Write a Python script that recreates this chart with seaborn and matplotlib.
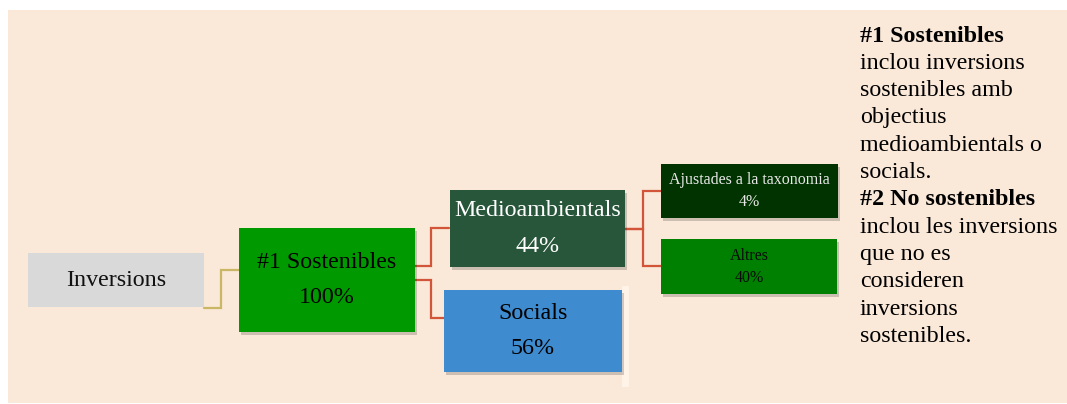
import matplotlib
matplotlib.use("Agg")
import matplotlib.pyplot as plt
import seaborn as sns
from matplotlib.patches import Rectangle

# --- data ---
labels = ["Inversions", "#1 Sostenibles", "Medioambientals", "Socials",
          "Ajustades a la taxonomia", "Altres"]
shares = [None, 100, 44, 56, 4, 40]
parents = [None, 0, 1, 1, 2, 2]

note_titles = ["#1 Sostenibles", "#2 No sostenibles"]
note_bodies = [["inclou inversions", "sostenibles amb", "objectius",
                "medioambientals o", "socials."],
               ["inclou les inversions", "que no es", "consideren",
                "inversions", "sostenibles."]]

# --- layout (pixel coords, y down) ---
boxes = [(28, 253, 176, 54), (239, 228, 176, 104), (450, 190, 175, 77),
         (444, 290, 178, 82), (661, 164, 177, 54), (661, 239, 176, 55)]
fills = ["#d9d9d9", "#009900", "#28563a", "#3f8bd0", "#013300", "#008000"]
txt_colors = ["#111111", "#000000", "#ffffff", "#000000", "#e8e8e8", "#0a0a0a"]
sizes = [17.3, 17.3, 17.3, 17.3, 11.5, 11.5]
# connector: (x start, y start, x elbow, y end)
links = [(204, 308, 221, 270), (415, 266, 431, 228), (415, 280, 431, 318),
         (625, 229, 643, 191), (625, 229, 643, 266)]
link_colors = ["#c9b766", "#d2553a", "#d2553a", "#d2553a", "#d2553a"]

sns.set_theme(style="white")
plt.rcParams['font.family'] = ['Liberation Serif', 'DejaVu Serif']

fig = plt.figure(figsize=(10.67, 4.04), dpi=100)
ax = fig.add_axes([0, 0, 1, 1])
ax.set_xlim(0, 1067)
ax.set_ylim(404, 0)
ax.axis("off")

ax.add_patch(Rectangle((8, 10), 1059, 393, facecolor="#fae8d8", edgecolor="none"))
ax.add_patch(Rectangle((622, 286), 7, 101, facecolor="#fff3e8", edgecolor="none"))

for (xs, ys, xe, ye), c in zip(links, link_colors):
    ax.plot([xs, xe, xe, xe + 18], [ys, ys, ye, ye],
            color=c, lw=1.6, solid_joinstyle="miter", zorder=2)

for i, (x, y, w, h) in enumerate(boxes):
    if i > 0:
        ax.add_patch(Rectangle((x + 2, y + 3), w, h, facecolor="#000000",
                               alpha=0.18, edgecolor="none", zorder=2))
    ax.add_patch(Rectangle((x, y), w, h, facecolor=fills[i],
                           edgecolor="none", zorder=3))
    cx = x + w / 2
    if shares[i] is None:
        ax.text(cx, y + h / 2, labels[i], ha="center", va="center",
                fontsize=sizes[i], color=txt_colors[i], zorder=4)
    else:
        gap = 17.5 if sizes[i] > 14 else 11
        ax.text(cx, y + h / 2 - gap, labels[i], ha="center", va="center",
                fontsize=sizes[i], color=txt_colors[i], zorder=4)
        ax.text(cx, y + h / 2 + gap, f"{shares[i]}%", ha="center", va="center",
                fontsize=sizes[i], color=txt_colors[i], zorder=4)

yy = 36
for title, body in zip(note_titles, note_bodies):
    ax.text(860, yy, title, ha="left", va="center", fontsize=17.3,
            fontweight="bold", color="#000000")
    yy += 27.3
    for line in body:
        ax.text(860, yy, line, ha="left", va="center", fontsize=17.3,
                color="#000000")
        yy += 27.3

fig.savefig("out.png", dpi=100, facecolor="white")
